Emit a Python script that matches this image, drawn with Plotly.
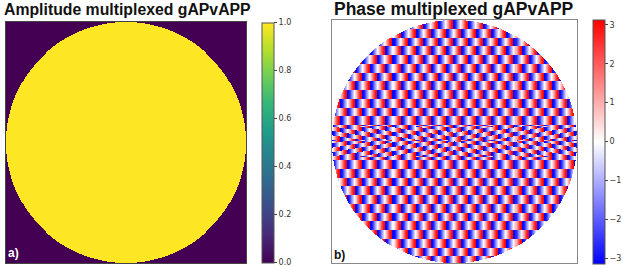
import plotly.graph_objects as go

W, H = 623, 266
title_a = "Amplitude multiplexed gAPvAPP"
title_b = "Phase multiplexed gAPvAPP"
label_a, label_b = "a)", "b)"
ticks_a = [0.0, 0.2, 0.4, 0.6, 0.8, 1.0]
ticks_b = [-3, -2, -1, 0, 1, 2, 3]
# one horizontal period of the phase pattern
phase_tile = [-3.1, -3.0, -2.7, -2.2, -1.6, -1.1, -0.6, -0.1, 0.4, 0.9, 1.4, 2.0, 2.5, 2.9, 3.1]
row_height = 8.75
row_start = 1.25
centre_band = 15.5
centre_row = 4.4
centre_slope = 0.16
aperture_radius = 0.5

N = 243
c = (N - 1) / 2
amp, phase = [], []
for j in range(N):
    ra, rp = [], []
    for i in range(N):
        dx, dy = i - c, j - c
        inside = dx * dx + dy * dy <= (aperture_radius * N) ** 2
        ra.append(1 if inside else 0)
        if abs(dy) < centre_band:
            s = 1 if dy >= 0 else -1
            row = int((dy - s * centre_slope * abs(dx)) // centre_row)
        else:
            row = int((dy - row_start) // row_height)
        k = int(i + (row % 2) * len(phase_tile) / 2) % len(phase_tile)
        rp.append(phase_tile[k] if inside else None)
    amp.append(ra)
    phase.append(rp)

def fx(p): return p / W
def fy(p): return 1 - p / H

tick_font = dict(family="DejaVu Sans", size=8, color="#333")
fig = go.Figure()
fig.add_trace(go.Heatmap(z=amp, colorscale="Viridis", zmin=0, zmax=1, xaxis="x", yaxis="y",
    colorbar=dict(x=fx(262), xanchor="left", xpad=0, y=fy(262.5), yanchor="bottom", ypad=0,
        len=239.5 / H, thickness=12, tickvals=ticks_a, ticktext=[f"{t:.1f}" for t in ticks_a], ticks="outside", ticklen=3,
        ticklabeloverflow="allow", tickfont=tick_font, outlinecolor="#555", outlinewidth=1)))
fig.add_trace(go.Heatmap(z=phase, colorscale=[[0, "#0000ff"], [0.5, "#ffffff"], [1, "#ff0000"]],
    zmin=-3.14, zmax=3.14, xaxis="x2", yaxis="y2", hoverongaps=False,
    colorbar=dict(x=fx(593), xanchor="left", xpad=0, y=fy(263.5), yanchor="bottom", ypad=0,
        len=243.5 / H, thickness=12, tickvals=ticks_b, ticks="outside", ticklen=3,
        ticklabeloverflow="allow", tickfont=tick_font, outlinecolor="#555", outlinewidth=1)))

hidden = dict(showticklabels=False, ticks="", showgrid=False, zeroline=False, mirror=True, showline=True, linewidth=1)
fig.update_layout(
    width=W, height=H, margin=dict(l=0, r=0, t=0, b=0), paper_bgcolor="white", plot_bgcolor="white",
    xaxis=dict(domain=[fx(6), fx(246)], linecolor="#444", anchor="y", **hidden),
    yaxis=dict(domain=[fy(263), fy(22)], linecolor="#444", anchor="x", autorange="reversed", **hidden),
    xaxis2=dict(domain=[fx(332), fx(577)], linecolor="#888", anchor="y2", **hidden),
    yaxis2=dict(domain=[fy(263), fy(20)], linecolor="#888", anchor="x2", autorange="reversed", **hidden),
    font=dict(family="Liberation Sans"),
    annotations=[
        dict(text=f"<b>{title_a}</b>", xref="paper", yref="paper", x=fx(1.5), y=fy(9), xanchor="left", yanchor="middle", showarrow=False, font=dict(size=15.8, color="#111")),
        dict(text=f"<b>{title_b}</b>", xref="paper", yref="paper", x=fx(331.5), y=fy(9.5), xanchor="left", yanchor="middle", showarrow=False, font=dict(size=17.5, color="#111")),
        dict(text=f"<b>{label_a}</b>", xref="paper", yref="paper", x=fx(6), y=fy(253), xanchor="left", yanchor="middle", showarrow=False, font=dict(size=12, color="white")),
        dict(text=f"<b>{label_b}</b>", xref="paper", yref="paper", x=fx(332), y=fy(255), xanchor="left", yanchor="middle", showarrow=False, font=dict(size=12, color="#111")),
    ],
)
fig.write_html("out.html", config={"displayModeBar": False},
               post_script="document.body.style.margin='0';document.documentElement.style.overflow='hidden';")
